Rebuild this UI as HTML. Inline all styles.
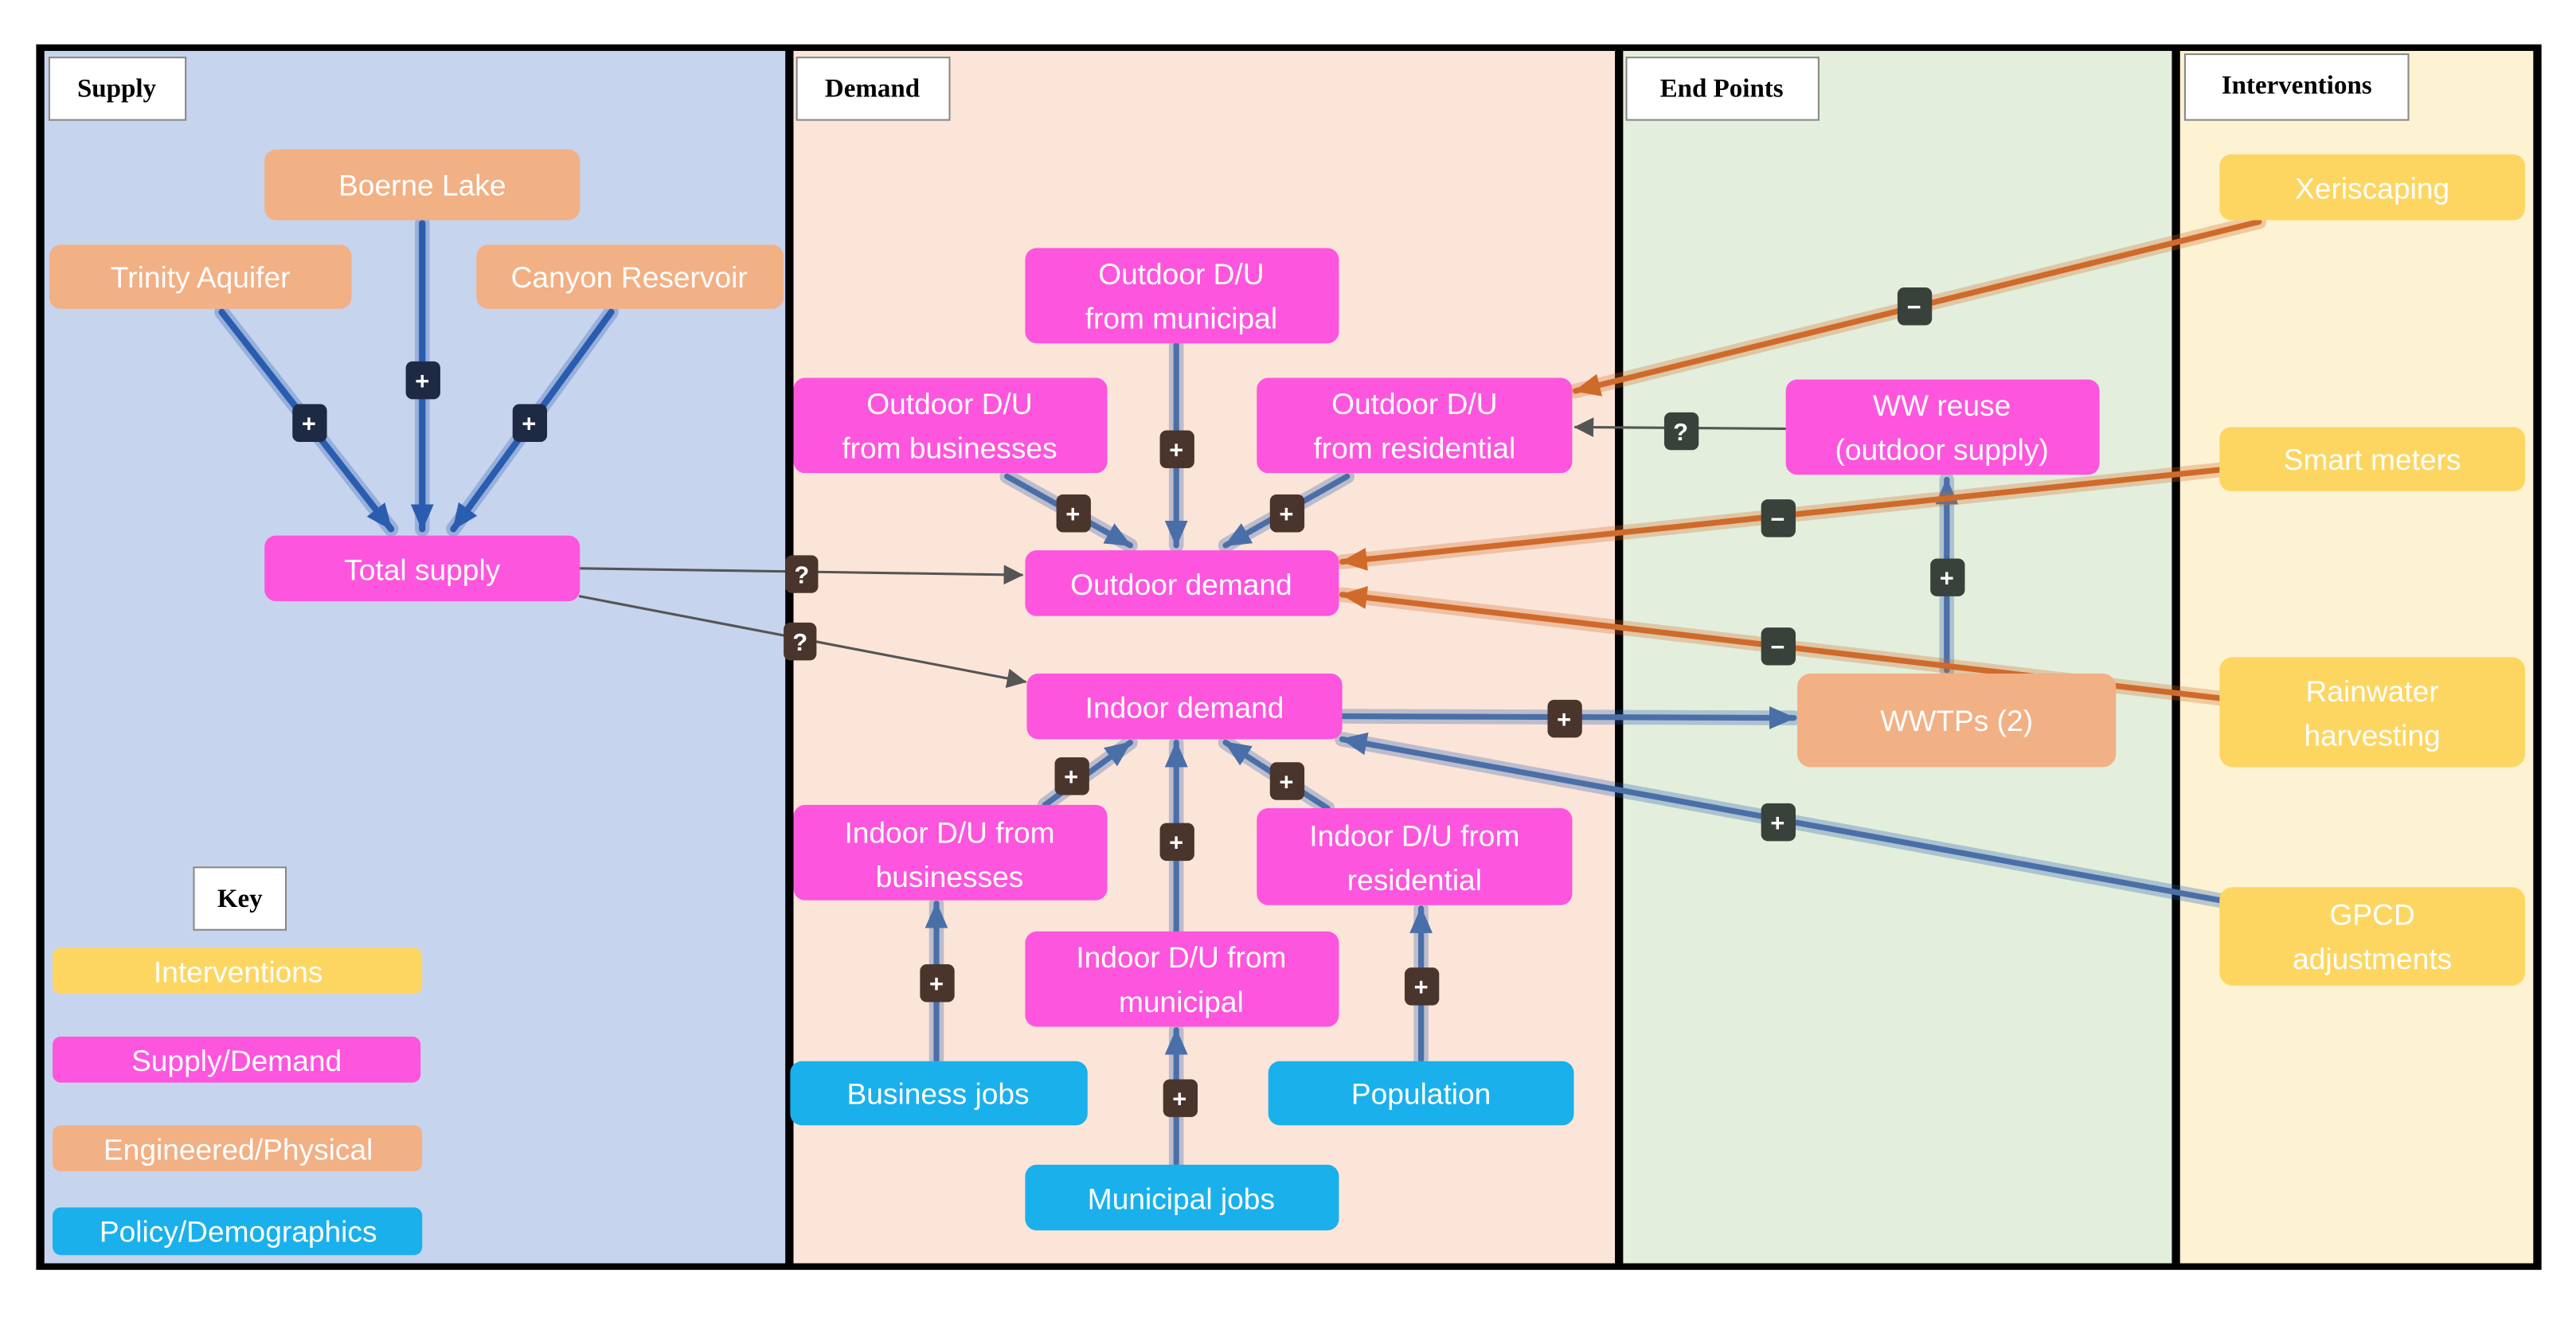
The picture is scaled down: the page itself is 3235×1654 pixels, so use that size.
<!DOCTYPE html>
<html><head><meta charset="utf-8"><style>
html,body{margin:0;padding:0;background:#fff;}
svg{display:block;}
.n{font-family:"Liberation Sans",sans-serif;font-size:18px;fill:#fff;text-anchor:middle;}
.t{font-family:"Liberation Serif",serif;font-size:16px;font-weight:bold;fill:#000;text-anchor:middle;}
.b{font-family:"Liberation Sans",sans-serif;font-size:15px;font-weight:bold;fill:#fff;text-anchor:middle;}
</style></head><body>
<svg width="3235" height="1654" viewBox="0 0 1568 801.7" xmlns="http://www.w3.org/2000/svg">
<defs>
<marker id="ab" markerWidth="8" markerHeight="8" refX="7" refY="4" orient="auto" markerUnits="userSpaceOnUse"><path d="M0,0 L8,4 L0,8 z" fill="#2a5db0"/></marker>
<marker id="ab2" markerWidth="16" markerHeight="14" refX="15" refY="7" orient="auto" markerUnits="userSpaceOnUse"><path d="M0,0 L16,7 L0,14 z" fill="#2a5db0"/></marker>
<marker id="abl" markerWidth="16" markerHeight="14" refX="15" refY="7" orient="auto" markerUnits="userSpaceOnUse"><path d="M0,0 L16,7 L0,14 z" fill="#4a6fa8"/></marker>
<marker id="ao" markerWidth="16" markerHeight="14" refX="15" refY="7" orient="auto" markerUnits="userSpaceOnUse"><path d="M0,0 L16,7 L0,14 z" fill="#d06a2a"/></marker>
<marker id="ag" markerWidth="12" markerHeight="12" refX="11" refY="6" orient="auto" markerUnits="userSpaceOnUse"><path d="M0,0 L12,6 L0,12 z" fill="#555"/></marker>
</defs>
<!-- panels -->
<rect x="22" y="27" width="1525" height="746" fill="#000"/>
<rect x="27" y="31" width="451" height="738" fill="#c6d4ee"/>
<rect x="483" y="31" width="500" height="738" fill="#fbe5d8"/>
<rect x="988" y="31" width="334" height="738" fill="#e3efdc"/>
<rect x="1327" y="31" width="215" height="738" fill="#fdf2d2"/>
<!-- titles -->
<rect x="30" y="35" width="83" height="38" fill="#fff" stroke="#888" stroke-width="1"/><text class="t" x="71" y="59">Supply</text>
<rect x="485" y="35" width="93" height="38" fill="#fff" stroke="#888" stroke-width="1"/><text class="t" x="531" y="59">Demand</text>
<rect x="990" y="35" width="117" height="38" fill="#fff" stroke="#888" stroke-width="1"/><text class="t" x="1048" y="59">End Points</text>
<rect x="1330" y="33" width="136" height="40" fill="#fff" stroke="#888" stroke-width="1"/><text class="t" x="1398" y="57">Interventions</text>
<rect x="118" y="528" width="56" height="38" fill="#fff" stroke="#888" stroke-width="1"/><text class="t" x="146" y="552">Key</text>

<!-- edges: supply -->
<g stroke-linecap="round" fill="none">
<g stroke="#2a5db0" stroke-opacity="0.3" stroke-width="9">
<line x1="135" y1="190" x2="238" y2="322"/><line x1="257" y1="136" x2="257" y2="322"/><line x1="372" y1="190" x2="276" y2="322"/>
<line x1="716" y1="210" x2="716" y2="332"/><line x1="613" y1="290" x2="688" y2="332"/><line x1="820" y1="290" x2="746" y2="332"/>
<line x1="636" y1="490" x2="688" y2="452"/><line x1="716" y1="567" x2="716" y2="452"/><line x1="808" y1="492" x2="746" y2="452"/>
<line x1="570" y1="645" x2="570" y2="550"/><line x1="865" y1="645" x2="865" y2="553"/><line x1="716" y1="708" x2="716" y2="627"/>
<line x1="817" y1="436" x2="1092" y2="437"/><line x1="1185" y1="408" x2="1185" y2="292"/><line x1="1351" y1="548" x2="817" y2="450"/>
</g>
<g stroke="#2a5db0" stroke-width="4">
<line x1="135" y1="190" x2="238" y2="322" marker-end="url(#ab2)"/><line x1="257" y1="136" x2="257" y2="322" marker-end="url(#ab2)"/><line x1="372" y1="190" x2="276" y2="322" marker-end="url(#ab2)"/>
</g>
<g stroke="#4a6fa8" stroke-width="3.5">
<line x1="716" y1="210" x2="716" y2="332" marker-end="url(#abl)"/><line x1="613" y1="290" x2="688" y2="332" marker-end="url(#abl)"/><line x1="820" y1="290" x2="746" y2="332" marker-end="url(#abl)"/>
<line x1="636" y1="490" x2="688" y2="452" marker-end="url(#abl)"/><line x1="716" y1="567" x2="716" y2="452" marker-end="url(#abl)"/><line x1="808" y1="492" x2="746" y2="452" marker-end="url(#abl)"/>
<line x1="570" y1="645" x2="570" y2="550" marker-end="url(#abl)"/><line x1="865" y1="645" x2="865" y2="553" marker-end="url(#abl)"/><line x1="716" y1="708" x2="716" y2="627" marker-end="url(#abl)"/>
<line x1="817" y1="436" x2="1092" y2="437" marker-end="url(#abl)"/><line x1="1185" y1="408" x2="1185" y2="292" marker-end="url(#abl)"/><line x1="1351" y1="548" x2="817" y2="450" marker-end="url(#abl)"/>
</g>
<g stroke="#d06a2a" stroke-opacity="0.3" stroke-width="9">
<line x1="1375" y1="135" x2="959" y2="238"/><line x1="1351" y1="286" x2="817" y2="342"/><line x1="1351" y1="425" x2="817" y2="362"/>
</g>
<g stroke="#d06a2a" stroke-width="3.5">
<line x1="1375" y1="135" x2="959" y2="238" marker-end="url(#ao)"/><line x1="1351" y1="286" x2="817" y2="342" marker-end="url(#ao)"/><line x1="1351" y1="425" x2="817" y2="362" marker-end="url(#ao)"/>
</g>
<g stroke="#555" stroke-width="1.5">
<line x1="353" y1="346" x2="622" y2="350" marker-end="url(#ag)"/><line x1="353" y1="363" x2="624" y2="415" marker-end="url(#ag)"/><line x1="1087" y1="261" x2="959" y2="260" marker-end="url(#ag)"/>
</g>
</g>

<!-- nodes -->
<g>
<rect x="161" y="91" width="192" height="43" rx="7" fill="#f2b085"/><text class="n" x="257" y="119">Boerne Lake</text>
<rect x="30" y="149" width="184" height="39" rx="7" fill="#f2b085"/><text class="n" x="122" y="175">Trinity Aquifer</text>
<rect x="290" y="149" width="187" height="39" rx="7" fill="#f2b085"/><text class="n" x="383" y="175">Canyon Reservoir</text>
<rect x="161" y="326" width="192" height="40" rx="7" fill="#fd55dd"/><text class="n" x="257" y="353">Total supply</text>

<rect x="624" y="151" width="191" height="58" rx="7" fill="#fd55dd"/><text class="n" x="719" y="173">Outdoor D/U</text><text class="n" x="719" y="200">from municipal</text>
<rect x="483" y="230" width="191" height="58" rx="7" fill="#fd55dd"/><text class="n" x="578" y="252">Outdoor D/U</text><text class="n" x="578" y="279">from businesses</text>
<rect x="765" y="230" width="192" height="58" rx="7" fill="#fd55dd"/><text class="n" x="861" y="252">Outdoor D/U</text><text class="n" x="861" y="279">from residential</text>
<rect x="624" y="335" width="191" height="40" rx="7" fill="#fd55dd"/><text class="n" x="719" y="362">Outdoor demand</text>
<rect x="625" y="410" width="192" height="40" rx="7" fill="#fd55dd"/><text class="n" x="721" y="437">Indoor demand</text>
<rect x="483" y="490" width="191" height="58" rx="7" fill="#fd55dd"/><text class="n" x="578" y="513">Indoor D/U from</text><text class="n" x="578" y="540">businesses</text>
<rect x="765" y="492" width="192" height="59" rx="7" fill="#fd55dd"/><text class="n" x="861" y="515">Indoor D/U from</text><text class="n" x="861" y="542">residential</text>
<rect x="624" y="567" width="191" height="58" rx="7" fill="#fd55dd"/><text class="n" x="719" y="589">Indoor D/U from</text><text class="n" x="719" y="616">municipal</text>
<rect x="481" y="646" width="181" height="39" rx="7" fill="#1ab0ec"/><text class="n" x="571" y="672">Business jobs</text>
<rect x="772" y="646" width="186" height="39" rx="7" fill="#1ab0ec"/><text class="n" x="865" y="672">Population</text>
<rect x="624" y="709" width="191" height="40" rx="7" fill="#1ab0ec"/><text class="n" x="719" y="736">Municipal jobs</text>

<rect x="1087" y="231" width="191" height="58" rx="7" fill="#fd55dd"/><text class="n" x="1182" y="253">WW reuse</text><text class="n" x="1182" y="280">(outdoor supply)</text>
<rect x="1094" y="410" width="194" height="57" rx="8" fill="#f2b085"/><text class="n" x="1191" y="445">WWTPs (2)</text>

<rect x="1351" y="94" width="186" height="40" rx="7" fill="#fdd662"/><text class="n" x="1444" y="121">Xeriscaping</text>
<rect x="1351" y="260" width="186" height="39" rx="7" fill="#fdd662"/><text class="n" x="1444" y="286">Smart meters</text>
<rect x="1351" y="400" width="186" height="67" rx="8" fill="#fdd662"/><text class="n" x="1444" y="427">Rainwater</text><text class="n" x="1444" y="454">harvesting</text>
<rect x="1351" y="540" width="186" height="60" rx="8" fill="#fdd662"/><text class="n" x="1444" y="563">GPCD</text><text class="n" x="1444" y="590">adjustments</text>

<rect x="32" y="577" width="225" height="28" rx="5" fill="#fdd662"/><text class="n" x="145" y="598">Interventions</text>
<rect x="32" y="631" width="224" height="28" rx="5" fill="#fd55dd"/><text class="n" x="144" y="652">Supply/Demand</text>
<rect x="32" y="685" width="225" height="28" rx="5" fill="#f2b085"/><text class="n" x="145" y="706">Engineered/Physical</text>
<rect x="32" y="735" width="225" height="29" rx="5" fill="#1ab0ec"/><text class="n" x="145" y="756">Policy/Demographics</text>
</g>

<!-- badges -->
<g>
<g fill="#1e2a44">
<rect x="178" y="246" width="21" height="23" rx="4"/><rect x="247" y="220" width="21" height="23" rx="4"/><rect x="312" y="246" width="21" height="23" rx="4"/>
</g>
<text class="b" x="188" y="263">+</text><text class="b" x="257" y="237">+</text><text class="b" x="322" y="263">+</text>
<g fill="#4a352c">
<rect x="478" y="338" width="20" height="23" rx="4"/><rect x="477" y="379" width="20" height="23" rx="4"/>
<rect x="706" y="262" width="21" height="23" rx="4"/><rect x="643" y="301" width="21" height="23" rx="4"/><rect x="773" y="301" width="21" height="23" rx="4"/>
<rect x="642" y="461" width="21" height="23" rx="4"/><rect x="706" y="501" width="21" height="23" rx="4"/><rect x="773" y="464" width="21" height="23" rx="4"/>
<rect x="560" y="587" width="21" height="23" rx="4"/><rect x="855" y="589" width="21" height="23" rx="4"/><rect x="708" y="657" width="21" height="23" rx="4"/>
<rect x="942" y="426" width="21" height="23" rx="4"/>
</g>
<text class="b" x="488" y="355">?</text><text class="b" x="487" y="396">?</text>
<text class="b" x="716" y="279">+</text><text class="b" x="653" y="318">+</text><text class="b" x="783" y="318">+</text>
<text class="b" x="652" y="478">+</text><text class="b" x="716" y="518">+</text><text class="b" x="783" y="481">+</text>
<text class="b" x="570" y="604">+</text><text class="b" x="865" y="606">+</text><text class="b" x="718" y="674">+</text><text class="b" x="952" y="443">+</text>
<g fill="#39423a">
<rect x="1013" y="251" width="21" height="23" rx="4"/><rect x="1155" y="175" width="21" height="23" rx="4"/>
<rect x="1072" y="304" width="21" height="23" rx="4"/><rect x="1072" y="382" width="21" height="23" rx="4"/>
<rect x="1175" y="340" width="21" height="23" rx="4"/><rect x="1072" y="489" width="21" height="23" rx="4"/>
</g>
<text class="b" x="1023" y="268">?</text><text class="b" x="1165" y="192">−</text><text class="b" x="1082" y="321">−</text><text class="b" x="1082" y="399">−</text><text class="b" x="1185" y="357">+</text><text class="b" x="1082" y="506">+</text>
</g>
</svg>
</body></html>
